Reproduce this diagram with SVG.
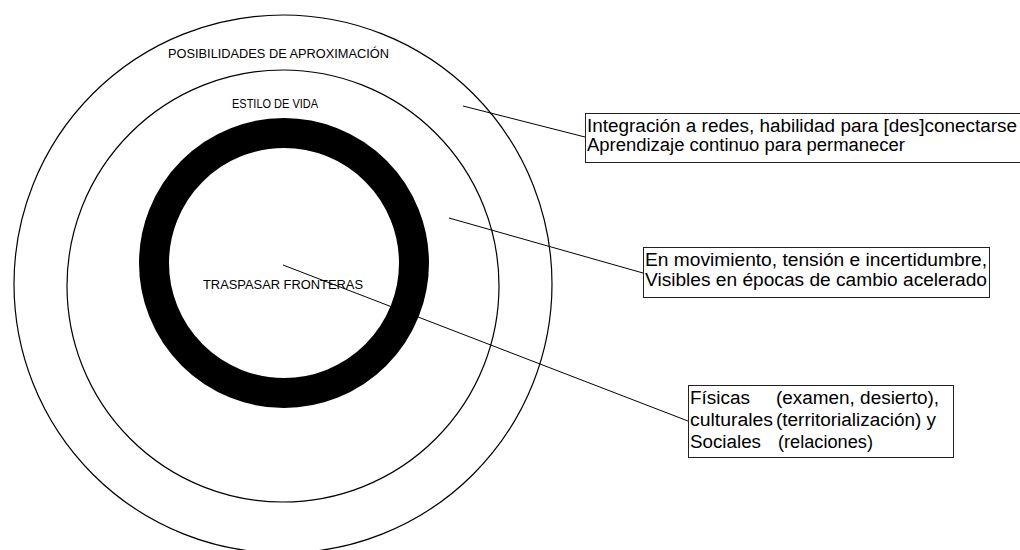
<svg xmlns="http://www.w3.org/2000/svg" width="1020" height="550" viewBox="0 0 1020 550">
  <style>
    .ring { fill: none; stroke: #000; stroke-width: 1.2; }
    .band { fill: none; stroke: #000; stroke-width: 30; }
    .conn { stroke: #000; stroke-width: 1; fill: none; }
    .box { fill: #fff; stroke: #222; stroke-width: 1; }
    .lbl { font-family: "Liberation Sans", Arial, sans-serif; font-size: 12px; fill: #000; }
    .txt { font-family: "Liberation Sans", Arial, sans-serif; font-size: 18px; fill: #000; }
  </style>
  <rect width="1020" height="550" fill="#fff"/>
  <g id="outer-circle">
    <circle class="ring" cx="283" cy="284" r="269"/>
    <text class="lbl" x="168" y="58" textLength="221" lengthAdjust="spacingAndGlyphs">POSIBILIDADES DE APROXIMACIÓN</text>
  </g>
  <g id="middle-circle">
    <circle class="ring" cx="283" cy="286" r="216"/>
    <text class="lbl" x="232" y="108" textLength="86" lengthAdjust="spacingAndGlyphs">ESTILO DE VIDA</text>
  </g>
  <g id="connectors">
    <line class="conn" x1="463" y1="106" x2="585" y2="137"/>
    <line class="conn" x1="449" y1="218" x2="643" y2="273"/>
    <line class="conn" x1="283" y1="265" x2="688" y2="421"/>
  </g>
  <g id="inner-ring">
    <circle class="band" cx="284" cy="263" r="130"/>
    <text class="lbl" x="203" y="289" textLength="160" lengthAdjust="spacingAndGlyphs">TRASPASAR FRONTERAS</text>
  </g>
  <g id="box-redes">
    <rect class="box" x="585.5" y="113.5" width="440" height="49"/>
    <text class="txt" x="587" y="132" textLength="430" lengthAdjust="spacingAndGlyphs">Integración a redes, habilidad para [des]conectarse</text>
    <text class="txt" x="587" y="151" textLength="318" lengthAdjust="spacingAndGlyphs">Aprendizaje continuo para permanecer</text>
  </g>
  <g id="box-movimiento">
    <rect class="box" x="643.5" y="247.5" width="346" height="50"/>
    <text class="txt" x="645" y="266" textLength="342" lengthAdjust="spacingAndGlyphs">En movimiento, tensión e incertidumbre,</text>
    <text class="txt" x="645" y="286" textLength="342" lengthAdjust="spacingAndGlyphs">Visibles en épocas de cambio acelerado</text>
  </g>
  <g id="box-fronteras">
    <rect class="box" x="688.5" y="385.5" width="265" height="72"/>
    <text class="txt" x="690" y="404" textLength="60" lengthAdjust="spacingAndGlyphs">Físicas</text>
    <text class="txt" x="776" y="404" textLength="163" lengthAdjust="spacingAndGlyphs">(examen, desierto),</text>
    <text class="txt" x="690" y="426" textLength="83" lengthAdjust="spacingAndGlyphs">culturales</text>
    <text class="txt" x="776" y="426" textLength="160" lengthAdjust="spacingAndGlyphs">(territorialización) y</text>
    <text class="txt" x="690" y="448" textLength="71" lengthAdjust="spacingAndGlyphs">Sociales</text>
    <text class="txt" x="778" y="448" textLength="95" lengthAdjust="spacingAndGlyphs">(relaciones)</text>
  </g>
</svg>
